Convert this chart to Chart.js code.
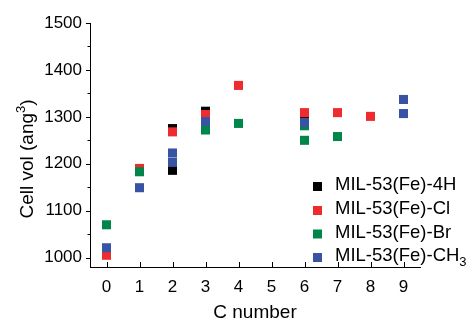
<!DOCTYPE html>
<html><head><meta charset="utf-8">
<script src="https://cdn.jsdelivr.net/npm/chart.js@4"></script>
<style>html,body{margin:0;padding:0;background:#fff}</style>
</head><body>
<canvas id="c" width="476" height="322"></canvas>
<script>
// ---- data ----
const seriesNames = ['MIL-53(Fe)-4H', 'MIL-53(Fe)-Cl', 'MIL-53(Fe)-Br', 'MIL-53(Fe)-CH'];
const seriesSubs  = ['', '', '', '3'];
const seriesColors = ['#000000', '#ee2b2f', '#00864a', '#3953a4'];

const c4H  = [2, 2, 3, 6];
const v4H  = [1275, 1186, 1312, 1297];
const cCl  = [0, 1, 2, 3, 4, 6, 7, 8];
const vCl  = [1005, 1190, 1268, 1305, 1367, 1309, 1309, 1301];
const cBr  = [0, 1, 3, 4, 6, 6, 7];
const vBr  = [1070, 1183, 1272, 1286, 1281, 1250, 1258];
const cCH3 = [0, 1, 2, 2, 3, 6, 9, 9];
const vCH3 = [1021, 1149, 1223, 1203, 1290, 1288, 1337, 1307];

const xTicks = [0, 1, 2, 3, 4, 5, 6, 7, 8, 9];
const yMajorTicks = [1000, 1100, 1200, 1300, 1400, 1500];
const yMinorTicks = [1050, 1150, 1250, 1350, 1450];

const xTitle = 'C number';
const yTitleMain = 'Cell vol (ang';
const yTitleSup = '3';
const yTitleEnd = ')';

const FONT = "'Liberation Sans', Arial, sans-serif";

function pts(xs, ys) { return xs.map((x, i) => ({x: x, y: ys[i]})); }
const seriesData = [pts(c4H, v4H), pts(cCl, vCl), pts(cBr, vBr), pts(cCH3, vCH3)];

const datasets = seriesData.map((d, i) => ({
  label: seriesNames[i] + seriesSubs[i],
  data: d,
  backgroundColor: seriesColors[i],
  borderWidth: 0,
  pointStyle: 'rect',
  pointRadius: 6.4,
  pointHoverRadius: 6.4,
  order: 4 - i
}));

const decor = {
  id: 'decor',
  afterDraw(chart) {
    const ctx = chart.ctx;
    const xs = chart.scales.x, ys = chart.scales.y;
    const ca = chart.chartArea;
    ctx.save();
    ctx.strokeStyle = '#000';
    ctx.lineWidth = 1;
    // y ticks (outward)
    ctx.beginPath();
    yMajorTicks.forEach(v => { const y = Math.round(ys.getPixelForValue(v)) + 0.5; ctx.moveTo(ca.left - 4, y); ctx.lineTo(ca.left, y); });
    yMinorTicks.forEach(v => { const y = Math.round(ys.getPixelForValue(v)) + 0.5; ctx.moveTo(ca.left - 2.5, y); ctx.lineTo(ca.left, y); });
    // x ticks (inward)
    xTicks.forEach(v => { const x = Math.round(xs.getPixelForValue(v)) + 0.5; ctx.moveTo(x, ca.bottom); ctx.lineTo(x, ca.bottom - 5); });
    ctx.stroke();

    // x title
    ctx.fillStyle = '#000';
    ctx.font = '19px ' + FONT;
    ctx.textAlign = 'center';
    ctx.textBaseline = 'middle';
    ctx.fillText(xTitle, (ca.left + ca.right) / 2, 313);

    // y title rotated with superscript
    ctx.save();
    ctx.translate(33, 159);
    ctx.rotate(-Math.PI / 2);
    ctx.textBaseline = 'alphabetic';
    ctx.textAlign = 'left';
    ctx.font = '19px ' + FONT;
    const w1 = ctx.measureText(yTitleMain).width;
    const w3 = ctx.measureText(yTitleEnd).width;
    ctx.font = '13px ' + FONT;
    const w2 = ctx.measureText(yTitleSup).width;
    const total = w1 + w2 + w3;
    let sx = -total / 2;
    ctx.font = '19px ' + FONT;
    ctx.fillText(yTitleMain, sx, 0);
    ctx.font = '13px ' + FONT;
    ctx.fillText(yTitleSup, sx + w1, -8);
    ctx.font = '19px ' + FONT;
    ctx.fillText(yTitleEnd, sx + w1 + w2, 0);
    ctx.restore();

    // legend
    const rowY = [186, 210, 233.5, 257];
    seriesNames.forEach((name, i) => {
      ctx.fillStyle = seriesColors[i];
      ctx.fillRect(313, rowY[i] - 4, 9, 9);
      ctx.fillStyle = '#000';
      ctx.font = '18.5px ' + FONT;
      ctx.textAlign = 'left';
      ctx.textBaseline = 'middle';
      ctx.fillText(name, 335, rowY[i] - 1);
      if (seriesSubs[i]) {
        const w = ctx.measureText(name).width;
        ctx.font = '13px ' + FONT;
        ctx.fillText(seriesSubs[i], 335 + w, rowY[i] + 5);
      }
    });
    ctx.restore();
  }
};

new Chart(document.getElementById('c'), {
  type: 'scatter',
  data: { datasets: datasets },
  options: {
    responsive: false,
    animation: false,
    events: [],
    layout: { padding: { top: 23, right: 56, left: 0, bottom: 0 } },
    plugins: { legend: { display: false }, tooltip: { enabled: false } },
    scales: {
      x: {
        type: 'linear', min: -0.5, max: 9.5,
        afterBuildTicks: s => { s.ticks = xTicks.map(v => ({value: v})); },
        ticks: { font: { family: FONT, size: 17 }, color: '#000', padding: 10, autoSkip: false, maxRotation: 0,
                 callback: v => String(v) },
        grid: { display: true, drawOnChartArea: false, drawTicks: false },
        border: { display: true, color: '#000', width: 1 },
        afterFit: s => { s.height = 55; }
      },
      y: {
        type: 'linear', min: 980, max: 1500,
        afterBuildTicks: s => { s.ticks = yMajorTicks.map(v => ({value: v})); },
        ticks: { font: { family: FONT, size: 17 }, color: '#000', padding: 8,
                 callback: v => String(v) },
        grid: { display: true, drawOnChartArea: false, drawTicks: false },
        border: { display: true, color: '#000', width: 1 },
        afterFit: s => { s.width = 90; }
      }
    }
  },
  plugins: [decor]
});
</script>
</body></html>
